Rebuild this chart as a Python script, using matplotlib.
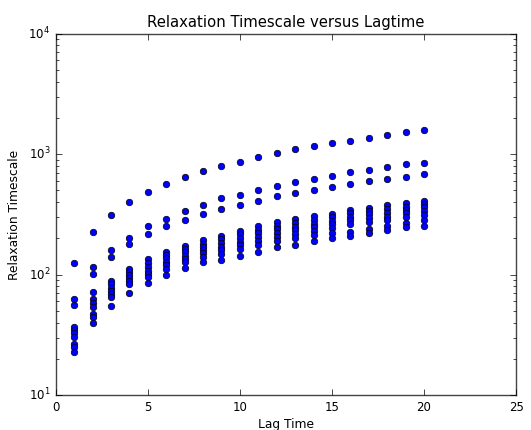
import matplotlib
matplotlib.use('Agg')
import matplotlib.pyplot as plt

# lag times on the x axis
lag_times = list(range(1, 21))

# relaxation timescales, one list per eigenmode
t1 = [125, 225, 313, 400, 489, 567, 644, 722, 804, 868, 955, 1026, 1100, 1172, 1234, 1289, 1365, 1439, 1524, 1581]
t2 = [63, 115, 161, 203, 253, 292, 338, 377, 431, 462, 506, 546, 586, 627, 664, 713, 745, 780, 826, 851]
t3 = [56, 101, 140, 181, 218, 253, 287, 321, 352, 382, 412, 448, 477, 502, 532, 564, 600, 624, 652, 690]
t4 = [36.7, 71.6, 88.8, 111.7, 134.5, 155.5, 174, 194.5, 211, 232, 254, 274, 289, 306, 320, 345, 360, 377, 392, 409]
t5 = [34.8, 62.6, 83.4, 105, 124.6, 146, 164, 181, 197, 217, 237, 256, 269, 285, 300, 324, 338, 352, 367, 385]
t6 = [32.7, 58, 78.2, 99, 116, 137, 154, 170, 184, 202, 221, 239, 251, 265, 281, 304, 318, 328, 345, 363]
t7 = [30.3, 53.7, 73.4, 93.5, 108, 127.6, 144, 160, 171, 188, 206, 222, 234, 248, 264, 285, 294, 303, 324, 338]
t8 = [26.5, 47.3, 68.9, 88.3, 101, 120, 135, 150, 160, 176, 192, 207, 218, 231, 246, 264, 273, 283, 302, 313]
t9 = [25.3, 44.9, 65, 83.4, 95.3, 111.7, 127, 141, 148, 163, 178, 192, 202, 213, 224, 228, 241, 255, 271, 285]
t10 = [22.9, 39.8, 55.4, 70.2, 85, 99.6, 113, 127, 133, 144, 155, 171, 178, 192, 203, 211, 224, 235, 248, 255]

plt.style.use('classic')
fig = plt.figure(figsize=(5.31, 4.30), dpi=100)
ax = fig.add_axes([0.105, 0.081, 0.867, 0.8405])

for ts in [t1, t2, t3, t4, t5, t6, t7, t8, t9, t10]:
    ax.scatter(lag_times, ts, s=22, c='b', edgecolors='k', linewidths=0.5)

ax.set_yscale('log')
ax.set_xlim(0, 25)
ax.set_ylim(10, 10000)
ax.tick_params(labelsize=8.5)
for sp in ax.spines.values():
    sp.set_edgecolor('#444444')
ax.set_xlabel('Lag Time', fontsize=8.8, labelpad=3)
ax.set_ylabel('Relaxation Timescale', fontsize=8.8)
ax.set_title('Relaxation Timescale versus Lagtime', fontsize=10.7)

fig.savefig('out.png', dpi=100)
